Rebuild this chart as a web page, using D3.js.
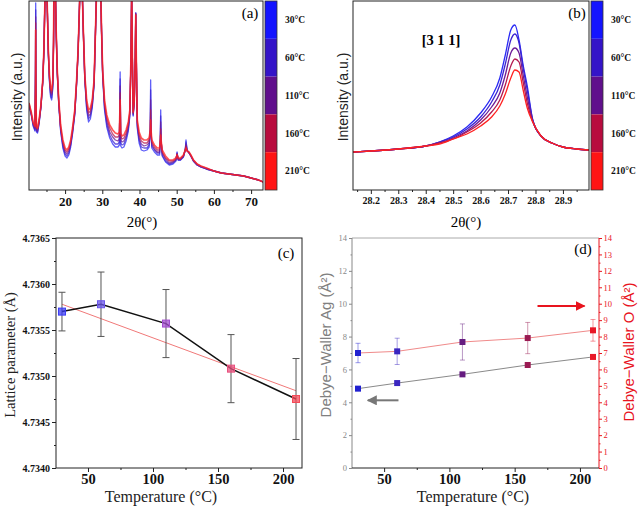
<!DOCTYPE html>
<html><head><meta charset="utf-8">
<script src="https://cdn.jsdelivr.net/npm/d3@7"></script>
<style>body{margin:0;background:#fff}svg{display:block}</style>
</head><body>
<svg id="chart" width="640" height="509"></svg>
<script>
// ---------- DATA ----------
const tempLabels = ["30°C","60°C","110°C","160°C","210°C"];
const temps = [30, 60, 110, 160, 210];

// (a) full XRD pattern
const xrdTwoTheta = [10.3,10.9,11.4,11.9,12.05,12.1,12.15,12.3,12.6,13.0,
 13.5,14.0,14.3,14.5,14.65,14.9,15.1,15.3,15.5,15.8,
 16.1,16.4,16.7,16.9,17.0,17.2,17.4,17.6,17.9,18.3,
 18.8,19.4,20.0,20.5,21.0,21.5,22.0,22.6,23.1,23.5,
 23.8,24.0,24.3,24.6,24.9,25.3,25.8,26.3,26.8,27.3,
 27.8,28.1,28.4,28.7,29.0,29.3,29.6,29.8,30.1,30.6,
 31.2,32.0,32.8,33.5,34.2,34.6,34.8,34.95,35.3,35.8,
 36.4,37.0,37.4,37.7,37.9,38.1,38.3,38.6,38.85,39.0,
 39.15,39.4,39.9,40.5,41.2,42.0,42.6,42.9,43.0,43.1,
 43.3,44.0,44.8,45.4,45.6,45.7,45.8,46.1,47.0,48.0,
 49.0,49.8,50.1,50.4,51.0,51.8,52.3,52.5,52.8,53.3,
 53.8,54.5,55.5,56.5,58.0,60.0,62.0,64.0,66.0,68.0,
 70.0,72.0,73.2];
const xrd30 = [85,75,64,59,130,187,120,58,57,66,
 82,108,138,175,200,220,200,168,135,108,
 93,90,102,145,200,220,200,158,116,85,
 59,42,34,32,35,43,56,75,106,138,
 175,200,220,200,158,110,80,68,71,82,
 105,148,190,210,200,210,195,158,114,80,
 63,52,46,43,43,45,118,44,42,43,
 49,59,74,128,200,128,74,87,130,177,
 130,62,47,40,39,40,43,60,110,60,
 42,38,35,35,50,80,50,34,28,25,
 26,29,38,30,30,33,40,50,40,37,
 34,29,25,23,21,19,17,16,15,14,
 12,10,8];
const xrd60 = [85,76,65,60,122,180,114,59,58,67,
 83,108,138,175,200,220,200,168,136,110,
 95,92,104,146,200,220,200,158,117,86,
 60,44,36,34,37,45,57,76,107,138,
 175,200,220,200,158,111,82,71,74,84,
 106,148,190,210,200,210,195,158,115,82,
 66,55,49,46,46,48,111,47,45,46,
 52,61,75,128,200,128,75,88,130,177,
 130,64,50,43,42,42,45,60,100,60,
 44,40,37,37,50,74,50,35,29,26,
 27,30,37,30,30,33,40,48,40,37,
 34,29,25,23,21,19,17,16,15,14,
 12,10,8];
const xrd110 = [86,76,66,61,115,173,108,60,59,68,
 83,109,139,175,200,220,200,169,137,111,
 97,95,106,147,200,220,200,159,118,87,
 62,46,38,36,39,46,59,77,108,139,
 175,200,220,200,159,112,85,74,76,86,
 107,149,190,210,200,210,195,159,117,85,
 69,58,53,50,49,51,104,50,48,49,
 54,63,77,129,200,129,76,88,130,176,
 130,66,52,46,44,45,47,60,90,60,
 46,41,38,38,50,68,50,37,31,27,
 28,30,36,31,31,34,40,46,39,37,
 34,29,25,23,21,19,17,16,15,14,
 12,10,8];
const xrd160 = [87,77,67,63,108,167,101,62,61,69,
 84,109,139,175,200,220,200,169,139,113,
 100,97,108,149,200,220,200,160,119,89,
 63,48,40,38,41,48,60,79,109,139,
 175,200,220,200,160,114,87,77,79,88,
 109,149,190,210,200,210,195,160,118,87,
 72,62,56,53,53,55,97,54,51,52,
 57,66,78,129,200,129,77,89,130,176,
 130,68,55,49,47,47,50,60,80,60,
 48,43,40,40,50,61,50,38,32,29,
 29,31,36,31,31,34,40,44,39,38,
 35,30,26,24,22,19,17,16,15,14,
 12,10,8];
const xrd210 = [87,78,68,64,100,160,95,63,62,70,
 85,110,140,175,200,220,200,170,140,115,
 102,100,110,150,200,220,200,160,120,90,
 65,50,42,40,43,50,62,80,110,140,
 175,200,220,200,160,115,90,80,82,90,
 110,150,190,210,200,210,195,160,120,90,
 75,65,60,57,56,58,90,57,54,55,
 60,68,80,130,200,130,78,90,130,175,
 130,70,58,52,50,50,52,60,70,60,
 50,45,42,42,50,55,50,40,34,30,
 30,32,35,32,32,35,40,42,39,38,
 35,30,26,24,22,19,17,16,15,14,
 12,10,8];
const xrdTicks = [20, 30, 40, 50, 60, 70];

// (b) [3 1 1] reflection
const peakTwoTheta = [28.135,28.2,28.3,28.4,28.45,28.5,28.55,28.6,28.64,28.67,28.69,28.71,28.725,28.74,28.755,28.77,28.79,28.82,28.86,28.9,28.95,28.995];
const peak30  = [38,39,41,44,48,54,63,77,93,112,135,160,165,150,125,104,70,54,47,43,41,40];
const peak60  = [38,39,41,44,48,53,61,73,88,105,126,150,156,147,122,100,70,54,47,43,41,40];
const peak110 = [38,39,41,44,47,52,59,70,83,97,115,137,142,137,115,93,69,54,47,43,41,40];
const peak160 = [38,39,41,44,47,51,58,67,78,90,105,124,131,128,108,87,68,54,47,43,41,40];
const peak210 = [38,39,41,44,46,51,56,64,73,84,96,112,120,118,100,82,68,54,47,43,41,40];
const peakTicks = [28.2,28.3,28.4,28.5,28.6,28.7,28.8,28.9];

// (c) lattice parameter
const latticeValue = [4.73570, 4.73578, 4.73557, 4.73508, 4.73475];
const latticeError = [0.00021, 0.00035, 0.00037, 0.00037, 0.00044];
const fitTemps = [30, 210];
const fitValues = [4.73578, 4.73484];
const latticeTicks = [4.7340, 4.7345, 4.7350, 4.7355, 4.7360, 4.7365];
const tempTicks = [50, 100, 150, 200];

// (d) Debye-Waller factors
const dwAg = [4.83, 5.17, 5.70, 6.27, 6.76];
const dwO = [7.00, 7.10, 7.67, 7.91, 8.38];
const dwOError = [0.59, 0.80, 1.10, 0.95, 0.66];

// ---------- STYLE ----------
const serif = "'Liberation Serif','Times New Roman',serif";
const sans = "'Liberation Sans',Arial,sans-serif";
const barColors = ["#1414ff","#3414c8","#600f8c","#b80c3e","#ff1414"];
const lineColors = ["#2a2af5","#3c24d2","#6c1c98","#b41a50","#ff2222"];
const markC = ["#3c3cf5","#6a56ea","#a44ed0","#e8507e","#f44a58"];
const markD = ["#2020d0","#3a26c0","#661c80","#9a1a52","#e81828"];

const svg = d3.select("#chart");

function frame(g,l,r,t,b,color){
  g.append("rect").attr("x",l).attr("y",t).attr("width",r-l).attr("height",b-t)
   .attr("fill","none").attr("stroke",color||"#222").attr("stroke-width",1);
}
function styleAxis(sel, font, size, weight, color){
  sel.select(".domain").remove();
  sel.selectAll("line").attr("stroke", color||"#222");
  sel.selectAll("text").attr("font-family",font).attr("font-size",size)
     .attr("font-weight",weight).attr("fill",color||"#111");
}
function colorbar(x,t,b,labelX){
  const h=(b-t)/5;
  barColors.forEach((c,i)=>{
    svg.append("rect").attr("x",x).attr("y",t+i*h).attr("width",12).attr("height",h).attr("fill",c);
    svg.append("text").attr("x",labelX).attr("y",t+i*h+h/2).attr("dy","0.35em")
      .attr("font-family",serif).attr("font-size",9.5).attr("font-weight","bold").attr("fill","#111")
      .text(tempLabels[i]);
  });
  svg.append("rect").attr("x",x).attr("y",t).attr("width",12).attr("height",b-t)
    .attr("fill","none").attr("stroke","#333").attr("stroke-width",0.8);
}

// ---------- PANEL A ----------
{
  const L=29,R=263,T=1,B=190;
  const x=d3.scaleLinear().domain([10.3,73.2]).range([L,R]);
  const y=d3.scaleLinear().domain([0,189]).range([B,T]);
  svg.append("clipPath").attr("id","clipA").append("rect").attr("x",L).attr("y",T).attr("width",R-L).attr("height",B-T);
  const g=svg.append("g").attr("clip-path","url(#clipA)");
  const series=[xrd30,xrd60,xrd110,xrd160,xrd210];
  series.forEach((s,k)=>{
    const line=d3.line().x((d,i)=>x(xrdTwoTheta[i])).y(d=>y(d));
    g.append("path").datum(s).attr("d",line).attr("fill","none")
     .attr("stroke",lineColors[k]).attr("stroke-width",k===4?1.7:1.3).attr("stroke-opacity",0.75)
     .attr("stroke-linejoin","round");
  });
  frame(svg,L,R,T,B);
  const ax=svg.append("g").attr("transform",`translate(0,${B})`)
    .call(d3.axisBottom(x).tickValues(xrdTicks).tickSize(4).tickPadding(3).tickFormat(d3.format("d")));
  styleAxis(ax,serif,13,"bold");
  const mn=svg.append("g").attr("transform",`translate(0,${B})`)
    .call(d3.axisBottom(x).tickValues([15,25,35,45,55,65]).tickSize(2).tickFormat(""));
  styleAxis(mn,serif,1,"normal");
  colorbar(265,T,B,285);
  svg.append("text").attr("x",250).attr("y",18).attr("text-anchor","middle")
    .attr("font-family",serif).attr("font-size",15).text("(a)");
  svg.append("text").attr("transform","translate(22,97) rotate(-90)").attr("text-anchor","middle")
    .attr("font-family",sans).attr("font-size",14).attr("fill","#222").text("Intensity (a.u.)");
  svg.append("text").attr("x",142).attr("y",227).attr("text-anchor","middle")
    .attr("font-family",serif).attr("font-size",15).text("2θ(°)");
}

// ---------- PANEL B ----------
{
  const L=353,R=589,T=1,B=190;
  const x=d3.scaleLinear().domain([28.135,28.995]).range([L,R]);
  const y=d3.scaleLinear().domain([0,189]).range([B,T]);
  svg.append("clipPath").attr("id","clipB").append("rect").attr("x",L).attr("y",T).attr("width",R-L).attr("height",B-T);
  const g=svg.append("g").attr("clip-path","url(#clipB)");
  const series=[peak30,peak60,peak110,peak160,peak210];
  series.forEach((s,k)=>{
    const line=d3.line().x((d,i)=>x(peakTwoTheta[i])).y(d=>y(d)).curve(d3.curveMonotoneX);
    g.append("path").datum(s).attr("d",line).attr("fill","none")
     .attr("stroke",lineColors[k]).attr("stroke-width",1.3);
  });
  frame(svg,L,R,T,B);
  const ax=svg.append("g").attr("transform",`translate(0,${B})`)
    .call(d3.axisBottom(x).tickValues(peakTicks).tickSize(4).tickPadding(3).tickFormat(d3.format(".1f")));
  styleAxis(ax,serif,10,"bold");
  const mn=svg.append("g").attr("transform",`translate(0,${B})`)
    .call(d3.axisBottom(x).tickValues([28.15,28.25,28.35,28.45,28.55,28.65,28.75,28.85,28.95]).tickSize(2).tickFormat(""));
  styleAxis(mn,serif,1,"normal");
  colorbar(591,T,B,611);
  svg.append("text").attr("x",577).attr("y",18).attr("text-anchor","middle")
    .attr("font-family",serif).attr("font-size",15).text("(b)");
  svg.append("text").attr("x",441).attr("y",45).attr("text-anchor","middle")
    .attr("font-family",serif).attr("font-size",14.5).attr("font-weight","bold").text("[3 1 1]");
  svg.append("text").attr("transform","translate(348,97) rotate(-90)").attr("text-anchor","middle")
    .attr("font-family",sans).attr("font-size",14).attr("fill","#222").text("Intensity (a.u.)");
  svg.append("text").attr("x",466).attr("y",227).attr("text-anchor","middle")
    .attr("font-family",serif).attr("font-size",15).text("2θ(°)");
}

// ---------- PANEL C ----------
{
  const L=56,R=302,T=238,B=468;
  const x=d3.scaleLinear().domain([25.4,214.6]).range([L,R]);
  const y=d3.scaleLinear().domain([4.7340,4.7365]).range([B,T]);
  frame(svg,L,R,T,B);
  const ax=svg.append("g").attr("transform",`translate(0,${B})`)
    .call(d3.axisBottom(x).tickValues(tempTicks).tickSize(4).tickPadding(2).tickFormat(d3.format("d")));
  styleAxis(ax,serif,14.5,"bold");
  const mnx=svg.append("g").attr("transform",`translate(0,${B})`)
    .call(d3.axisBottom(x).tickValues([75,125,175]).tickSize(2).tickFormat(""));
  styleAxis(mnx,serif,1,"normal");
  const ay=svg.append("g").attr("transform",`translate(${L},0)`)
    .call(d3.axisLeft(y).tickValues(latticeTicks).tickSize(4).tickPadding(2).tickFormat(d3.format(".4f")));
  styleAxis(ay,serif,10,"bold");
  const mny=svg.append("g").attr("transform",`translate(${L},0)`)
    .call(d3.axisLeft(y).tickValues([4.73425,4.73475,4.73525,4.73575,4.73625]).tickSize(2).tickFormat(""));
  styleAxis(mny,serif,1,"normal");
  svg.append("path").datum(fitTemps).attr("fill","none").attr("stroke","#f07878").attr("stroke-width",1)
    .attr("d",d3.line().x(d=>x(d)).y((d,i)=>y(fitValues[i])));
  temps.forEach((t,i)=>{
    const cx=x(t), y1=y(latticeValue[i]+latticeError[i]), y2=y(latticeValue[i]-latticeError[i]);
    svg.append("line").attr("x1",cx).attr("x2",cx).attr("y1",y1).attr("y2",y2).attr("stroke","#555").attr("stroke-width",1);
    [y1,y2].forEach(yy=>svg.append("line").attr("x1",cx-3.5).attr("x2",cx+3.5).attr("y1",yy).attr("y2",yy).attr("stroke","#555").attr("stroke-width",1));
  });
  svg.append("path").datum(latticeValue).attr("fill","none").attr("stroke","#111").attr("stroke-width",1.5)
    .attr("d",d3.line().x((d,i)=>x(temps[i])).y(d=>y(d)));
  latticeValue.forEach((v,i)=>{
    svg.append("rect").attr("x",x(temps[i])-3.5).attr("y",y(v)-3.5).attr("width",7).attr("height",7)
      .attr("fill",markC[i]).attr("fill-opacity",0.75).attr("stroke",markC[i]).attr("stroke-width",1);
  });
  svg.append("text").attr("x",286).attr("y",258).attr("text-anchor","middle")
    .attr("font-family",serif).attr("font-size",15).text("(c)");
  svg.append("text").attr("transform","translate(15,355) rotate(-90)").attr("text-anchor","middle")
    .attr("font-family",serif).attr("font-size",14.5).attr("fill","#222").text("Lattice parameter (Å)");
  svg.append("text").attr("x",161).attr("y",502).attr("text-anchor","middle")
    .attr("font-family",serif).attr("font-size",16).attr("fill","#222").text("Temperature (°C)");
}

// ---------- PANEL D ----------
{
  const L=352,R=599,T=238,B=468;
  const x=d3.scaleLinear().domain([25.4,214.6]).range([L,R]);
  const y=d3.scaleLinear().domain([0,14]).range([B,T]);
  const gray="#888", red="#e8141e";
  svg.append("line").attr("x1",L).attr("x2",R).attr("y1",T).attr("y2",T).attr("stroke","#aaa");
  svg.append("line").attr("x1",L).attr("x2",L).attr("y1",T).attr("y2",B).attr("stroke",gray);
  svg.append("line").attr("x1",R).attr("x2",R).attr("y1",T).attr("y2",B).attr("stroke",red);
  svg.append("line").attr("x1",L).attr("x2",R).attr("y1",B).attr("y2",B).attr("stroke","#222");
  const ax=svg.append("g").attr("transform",`translate(0,${B})`)
    .call(d3.axisBottom(x).tickValues(tempTicks).tickSize(4).tickPadding(2).tickFormat(d3.format("d")));
  styleAxis(ax,serif,14.5,"bold");
  const mnx=svg.append("g").attr("transform",`translate(0,${B})`)
    .call(d3.axisBottom(x).tickValues([75,125,175]).tickSize(2).tickFormat(""));
  styleAxis(mnx,serif,1,"normal");
  const ay=svg.append("g").attr("transform",`translate(${L},0)`)
    .call(d3.axisLeft(y).tickValues(d3.range(0,15,2)).tickSize(3).tickPadding(2).tickFormat(d3.format("d")));
  styleAxis(ay,serif,8.5,"normal",gray);
  const mny=svg.append("g").attr("transform",`translate(${L},0)`)
    .call(d3.axisLeft(y).tickValues(d3.range(1,14,2)).tickSize(1.5).tickFormat(""));
  styleAxis(mny,serif,1,"normal",gray);
  const ar=svg.append("g").attr("transform",`translate(${R},0)`)
    .call(d3.axisRight(y).tickValues(d3.range(0,15,1)).tickSize(3).tickPadding(1.5).tickFormat(d3.format("d")));
  styleAxis(ar,serif,8.5,"normal",red);
  const mnr=svg.append("g").attr("transform",`translate(${R},0)`)
    .call(d3.axisRight(y).tickValues(d3.range(0.5,14,1)).tickSize(1.5).tickFormat(""));
  styleAxis(mnr,serif,1,"normal",red);
  temps.forEach((t,i)=>{
    const cx=x(t), y1=y(dwO[i]+dwOError[i]), y2=y(dwO[i]-dwOError[i]);
    const c=markD[i];
    svg.append("line").attr("x1",cx).attr("x2",cx).attr("y1",y1).attr("y2",y2).attr("stroke",c).attr("stroke-opacity",0.45);
    [y1,y2].forEach(yy=>svg.append("line").attr("x1",cx-2.5).attr("x2",cx+2.5).attr("y1",yy).attr("y2",yy).attr("stroke",c).attr("stroke-opacity",0.45));
  });
  svg.append("path").datum(dwAg).attr("fill","none").attr("stroke","#8a8a8a").attr("stroke-width",1)
    .attr("d",d3.line().x((d,i)=>x(temps[i])).y(d=>y(d)));
  svg.append("path").datum(dwO).attr("fill","none").attr("stroke","#f08a8a").attr("stroke-width",1)
    .attr("d",d3.line().x((d,i)=>x(temps[i])).y(d=>y(d)));
  [dwAg,dwO].forEach(s=>s.forEach((v,i)=>{
    svg.append("rect").attr("x",x(temps[i])-3).attr("y",y(v)-3).attr("width",6).attr("height",6)
      .attr("fill",markD[i]);
  }));
  const defs=svg.append("defs");
  [["arRed",red],["arGray","#777"]].forEach(([id,c])=>{
    defs.append("marker").attr("id",id).attr("viewBox","0 0 10 10").attr("refX",9).attr("refY",5)
      .attr("markerWidth",5).attr("markerHeight",5).attr("orient","auto")
      .append("path").attr("d","M0,0 L10,5 L0,10 z").attr("fill",c);
  });
  svg.append("line").attr("x1",x(167.5)).attr("x2",x(203.5)).attr("y1",y(9.86)).attr("y2",y(9.86))
    .attr("stroke",red).attr("stroke-width",2).attr("marker-end","url(#arRed)");
  svg.append("line").attr("x1",x(61)).attr("x2",x(37.5)).attr("y1",y(4.12)).attr("y2",y(4.12))
    .attr("stroke","#777").attr("stroke-width",2).attr("marker-end","url(#arGray)");
  svg.append("text").attr("x",583).attr("y",254).attr("text-anchor","middle")
    .attr("font-family",serif).attr("font-size",15).text("(d)");
  svg.append("text").attr("transform","translate(331,345) rotate(-90)").attr("text-anchor","middle")
    .attr("font-family",sans).attr("font-size",15).attr("fill","#808080").text("Debye−Waller Ag (Å²)");
  svg.append("text").attr("transform","translate(634,352) rotate(-90)").attr("text-anchor","middle")
    .attr("font-family",sans).attr("font-size",15).attr("fill",red).text("Debye−Waller O (Å²)");
  svg.append("text").attr("x",473).attr("y",502).attr("text-anchor","middle")
    .attr("font-family",serif).attr("font-size",16).attr("fill","#222").text("Temperature (°C)");
}
</script>
</body></html>
